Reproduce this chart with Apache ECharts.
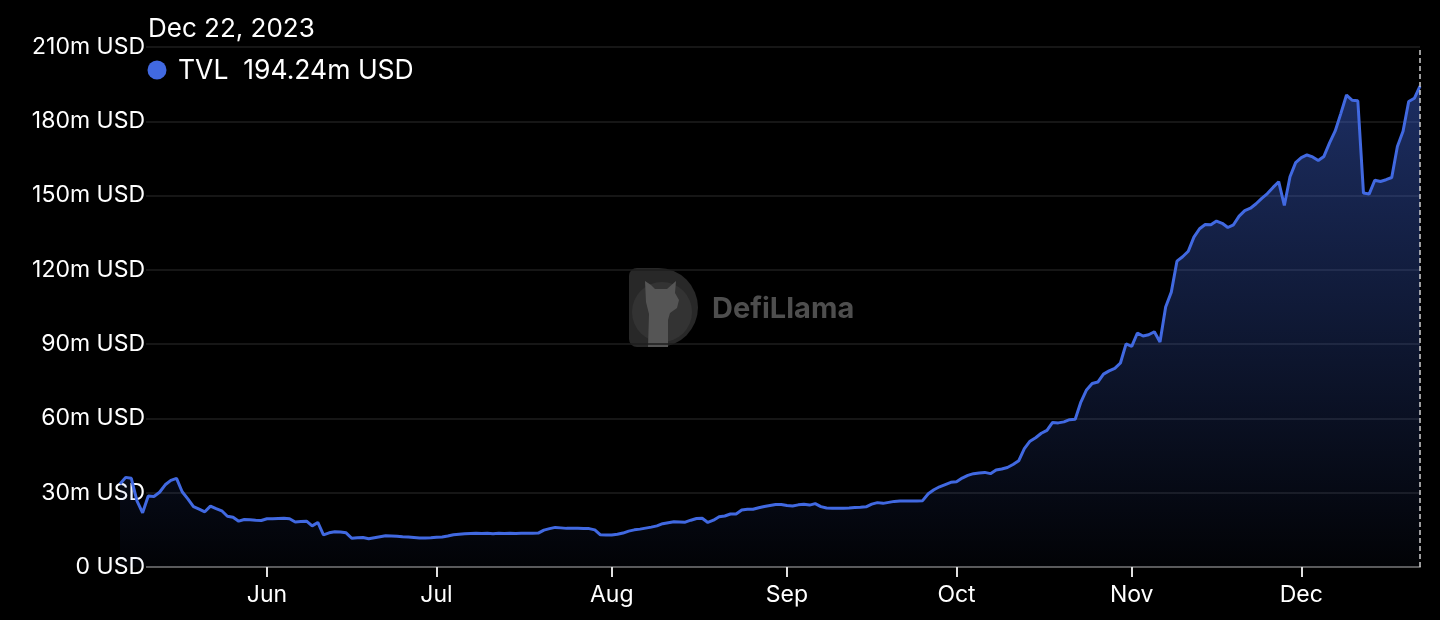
<!DOCTYPE html>
<html>
<head>
<meta charset="utf-8">
<script src="https://cdn.jsdelivr.net/npm/echarts@6/dist/echarts.min.js"></script>
<style>
  html, body { margin: 0; padding: 0; background: #000; }
  #chart { width: 1440px; height: 620px; }
</style>
</head>
<body>
<div id="chart"></div>
<script>
// ---- data (TVL in millions of USD, one value per day) ----
const startDate = '2023-05-06';
const seriesName = 'TVL';
const tvl = [
  33.5, 36.2, 35.8, 26.7, 21.9, 28.7, 28.5, 30.2, 33.2, 35.0,
  35.8, 30.4, 27.5, 24.4, 23.4, 22.3, 24.6, 23.6, 22.7, 20.5,
  20.1, 18.5, 19.2, 19.1, 18.9, 18.8, 19.5, 19.5, 19.6, 19.7,
  19.5, 18.2, 18.4, 18.5, 16.6, 18.0, 13.0, 13.8, 14.2,
  14.1, 13.8, 11.6, 11.8, 11.9, 11.4, 11.8, 12.2, 12.6, 12.5,
  12.4, 12.2, 12.1, 11.9, 11.7, 11.7, 11.8, 12.0, 12.1, 12.5,
  13.0, 13.2, 13.4, 13.5, 13.6,
  13.5, 13.6, 13.4, 13.6, 13.5, 13.6, 13.5, 13.6, 13.6, 13.6, 13.7,
  14.9, 15.5, 16.0, 15.8, 15.6, 15.6, 15.6, 15.5, 15.5,
  15.0, 13.0, 12.9, 12.9, 13.2, 13.7, 14.5, 15.0, 15.3, 15.7,
  16.1, 16.6, 17.5, 17.9, 18.3, 18.2, 18.1, 18.9, 19.6, 19.7,
  18.0, 18.9, 20.3, 20.6, 21.4, 21.4, 23.0, 23.3, 23.3, 23.9,
  24.4, 24.8, 25.2, 25.2, 24.8,
  24.6, 25.1, 25.3, 25.0, 25.6, 24.4, 23.8, 23.7, 23.7, 23.7,
  23.8, 24.0, 24.1, 24.3, 25.4, 26.0, 25.7, 26.1, 26.5, 26.7,
  26.7, 26.7, 26.7, 26.8, 29.6, 31.2, 32.4, 33.3, 34.2, 34.4,
  35.9, 37.0, 37.7, 38.0, 38.2, 37.7, 39.2, 39.6, 40.2, 41.4, 42.9,
  47.8, 50.8, 52.2, 54.0, 55.2, 58.4, 58.2, 58.6, 59.5, 59.7,
  66.6, 71.5, 74.1, 74.7, 77.9, 79.2, 80.2, 82.4, 90.1, 89.1,
  94.5, 93.3, 93.8, 95.0, 90.9, 105.0, 111.0, 123.5, 125.3, 127.5,
  133.2, 136.6,
  138.3, 138.2, 139.7, 138.8, 137.1, 138.2, 141.7, 143.9, 144.9, 146.7,
  148.9, 150.8, 153.3, 155.6, 146.0, 157.6, 163.3, 165.3, 166.4, 165.6,
  164.2, 165.8, 171.3, 176.1, 183.2, 190.6, 188.5, 188.3, 151.0, 150.6,
  156.2, 155.7, 156.4, 157.3, 169.8, 176.0, 188.0, 189.3, 194.24
];
const monthNames = ['Jan','Feb','Mar','Apr','May','Jun','Jul','Aug','Sep','Oct','Nov','Dec'];
const yMin = 0, yMax = 210, yStep = 30;

// ---- derived ----
const dates = [];
(function () {
  const d0 = new Date(startDate + 'T00:00:00Z');
  for (let i = 0; i < tvl.length; i++) {
    const d = new Date(d0.getTime() + i * 86400000);
    dates.push(d.toISOString().slice(0, 10));
  }
})();
const lastDate = dates[dates.length - 1];
const lastVal = tvl[tvl.length - 1];
function fmtDate(s) {
  const m = parseInt(s.slice(5, 7), 10) - 1;
  return monthNames[m] + ' ' + parseInt(s.slice(8, 10), 10) + ', ' + s.slice(0, 4);
}
const isMonthStart = (idx, val) => String(val).slice(8, 10) === '01';
const FONT = 'Inter, "Liberation Sans", Arial, sans-serif';
const LINE = '#4169E1';

const chart = echarts.init(document.getElementById('chart'), null, { renderer: 'canvas' });
chart.setOption({
  backgroundColor: '#000',
  animation: false,
  grid: { left: 120, right: 20, top: 47, bottom: 53, containLabel: false },
  xAxis: {
    type: 'category',
    data: dates,
    boundaryGap: false,
    axisLine: { show: true, lineStyle: { color: '#5a5a5a', width: 2 } },
    axisTick: { show: true, interval: isMonthStart, length: 10, lineStyle: { color: '#e0e0e0', width: 2 } },
    axisLabel: {
      interval: isMonthStart,
      formatter: v => monthNames[parseInt(v.slice(5, 7), 10) - 1],
      color: '#fff', fontSize: 23, fontFamily: FONT, margin: 17
    },
    splitLine: { show: false }
  },
  yAxis: [
    {
      type: 'value', min: yMin, max: yMax, interval: yStep, z: 1,
      axisLine: { show: false }, axisTick: { show: false },
      splitLine: { show: false },
      axisLabel: {
        formatter: v => (v === 0 ? '0 USD' : v + 'm USD'),
        color: '#fff', fontSize: 23, fontFamily: FONT,
        margin: -26, backgroundColor: '#000', padding: [3, 1, 3, 6]
      }
    },
    {
      type: 'value', min: yMin, max: yMax, interval: yStep, z: 0,
      axisLine: { show: false }, axisTick: { show: false }, axisLabel: { show: false },
      splitLine: { show: true, lineStyle: { color: '#1e1e1e', width: 1.5 } }
    }
  ],
  graphic: [
    {
      type: 'group', silent: true, z: -10,
      children: [
        { type: 'rect', shape: { x: 629, y: 268, width: 30, height: 79, r: [8, 0, 0, 8] }, style: { fill: '#282828' } },
        { type: 'sector', shape: { cx: 658.5, cy: 307.5, r: 39.5, r0: 0, startAngle: -Math.PI / 2, endAngle: Math.PI / 2, clockwise: true }, style: { fill: '#282828' } },
        { type: 'circle', shape: { cx: 662, cy: 312, r: 30 }, style: { fill: '#333333' } },
        { type: 'polygon', shape: { points: [[648,347],[649,314],[646,302],[645,281],[651,285],[655,289],[667,289],[676,281],[675,293],[679,300],[677,308],[670,313],[668,320],[668,347]] },
          style: { fill: '#555555' } },
        { type: 'text', style: { x: 712, y: 309, text: 'DefiLlama', fill: '#4e4e4e', font: 'bold 29px ' + FONT, verticalAlign: 'middle', align: 'left' } }
      ]
    },
    { type: 'text', z: 100, style: { x: 148, y: 29, text: fmtDate(lastDate), fill: '#fff', font: '26px ' + FONT, verticalAlign: 'middle' } },
    { type: 'circle', z: 100, shape: { cx: 157, cy: 70, r: 9.5 }, style: { fill: LINE } },
    { type: 'text', z: 100, style: { x: 178, y: 71, text: seriesName + '  ' + lastVal.toFixed(2) + 'm USD', fill: '#fff', font: '26.5px ' + FONT, verticalAlign: 'middle' } }
  ],
  series: [{
    name: seriesName,
    type: 'line',
    yAxisIndex: 0,
    data: tvl,
    showSymbol: false,
    symbol: 'none',
    z: 3,
    lineStyle: { color: LINE, width: 3 },
    itemStyle: { color: LINE },
    areaStyle: {
      color: new echarts.graphic.LinearGradient(0, 0, 0, 1, [
        { offset: 0, color: 'rgba(65,105,225,0.62)' },
        { offset: 1, color: 'rgba(65,105,225,0.04)' }
      ])
    },
    markLine: {
      silent: true, symbol: 'none', animation: false,
      label: { show: false },
      lineStyle: { color: '#cfcfcf', type: [5, 3], width: 1.5 },
      data: [{ xAxis: lastDate }]
    }
  }]
});
</script>
</body>
</html>
